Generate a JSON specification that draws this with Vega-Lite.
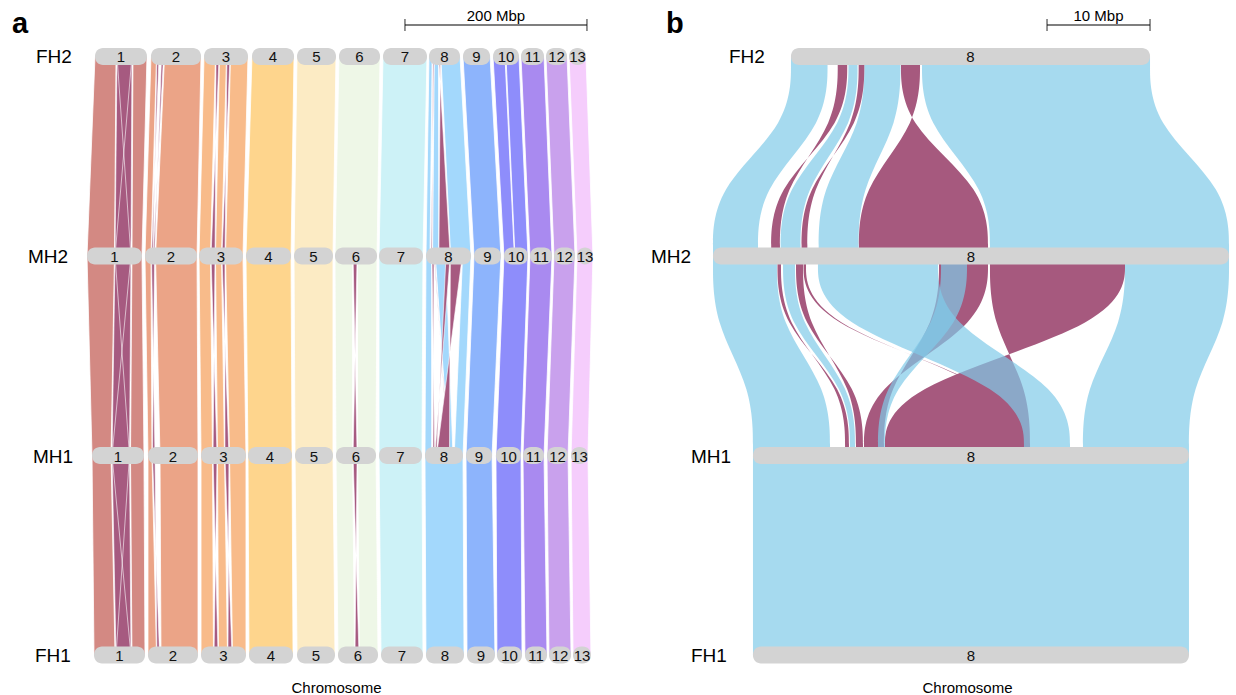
{
"$schema":"https://vega.github.io/schema/vega-lite/v6.json",
"padding":0,
"spacing":0,
"bounds":"flush",
"config":{"font":"Liberation Sans","view":{"stroke":null},"text":{"font":"Liberation Sans"}},
"datasets":{
"ra":[
{"id":"1a","c":"1","L":0,"x":11.0,"x2":34.1},{"id":"1a","c":"1","L":1,"x":2.2,"x2":32.4},
{"id":"1b","c":"1","L":0,"x":52.7,"x2":68.1},{"id":"1b","c":"1","L":1,"x":51.6,"x2":62.6},
{"id":"1c","c":"1","L":1,"x":2.2,"x2":32.4},{"id":"1c","c":"1","L":2,"x":7.7,"x2":28.6},
{"id":"1d","c":"1","L":1,"x":51.6,"x2":62.6},{"id":"1d","c":"1","L":2,"x":50.0,"x2":64.8},
{"id":"1e","c":"1","L":2,"x":7.7,"x2":28.6},{"id":"1e","c":"1","L":3,"x":9.9,"x2":33.0},
{"id":"1f","c":"1","L":2,"x":50.0,"x2":64.8},{"id":"1f","c":"1","L":3,"x":51.6,"x2":65.9},
{"id":"2a","c":"2","L":0,"x":72.5,"x2":78.6},{"id":"2a","c":"2","L":1,"x":65.9,"x2":72.5},
{"id":"2b","c":"2","L":0,"x":87.4,"x2":127.5},{"id":"2b","c":"2","L":1,"x":77.5,"x2":123.1},
{"id":"2c","c":"2","L":1,"x":65.9,"x2":72.5},{"id":"2c","c":"2","L":2,"x":69.2,"x2":73.6},
{"id":"2d","c":"2","L":1,"x":77.5,"x2":123.1},{"id":"2d","c":"2","L":2,"x":82.4,"x2":124.2},
{"id":"2e","c":"2","L":2,"x":69.2,"x2":73.6},{"id":"2e","c":"2","L":3,"x":69.2,"x2":78.6},
{"id":"2f","c":"2","L":2,"x":82.4,"x2":124.2},{"id":"2f","c":"2","L":3,"x":83.5,"x2":124.2},
{"id":"3a","c":"3","L":0,"x":130.8,"x2":143.4},{"id":"3a","c":"3","L":1,"x":125.3,"x2":137.9},
{"id":"3b","c":"3","L":0,"x":147.8,"x2":155.5},{"id":"3b","c":"3","L":1,"x":143.4,"x2":150.0},
{"id":"3c","c":"3","L":0,"x":159.9,"x2":179.1},{"id":"3c","c":"3","L":1,"x":154.4,"x2":173.6},
{"id":"3d","c":"3","L":1,"x":125.3,"x2":137.9},{"id":"3d","c":"3","L":2,"x":127.5,"x2":140.1},
{"id":"3e","c":"3","L":1,"x":143.4,"x2":150.0},{"id":"3e","c":"3","L":2,"x":145.6,"x2":153.3},
{"id":"3f","c":"3","L":1,"x":154.4,"x2":173.6},{"id":"3f","c":"3","L":2,"x":158.8,"x2":176.9},
{"id":"3g","c":"3","L":2,"x":127.5,"x2":140.1},{"id":"3g","c":"3","L":3,"x":127.5,"x2":141.2},
{"id":"3h","c":"3","L":2,"x":145.6,"x2":153.3},{"id":"3h","c":"3","L":3,"x":146.7,"x2":156.6},
{"id":"3i","c":"3","L":2,"x":158.8,"x2":176.9},{"id":"3i","c":"3","L":3,"x":162.1,"x2":176.9},
{"id":"4a","c":"4","L":0,"x":183.5,"x2":229.7},{"id":"4a","c":"4","L":1,"x":176.9,"x2":226.4},
{"id":"4b","c":"4","L":1,"x":176.9,"x2":226.4},{"id":"4b","c":"4","L":2,"x":179.1,"x2":227.5},
{"id":"4c","c":"4","L":2,"x":179.1,"x2":227.5},{"id":"4c","c":"4","L":3,"x":180.2,"x2":228.6},
{"id":"5a","c":"5","L":0,"x":233.0,"x2":275.8},{"id":"5a","c":"5","L":1,"x":229.7,"x2":272.5},
{"id":"5b","c":"5","L":1,"x":229.7,"x2":272.5},{"id":"5b","c":"5","L":2,"x":230.8,"x2":272.5},
{"id":"5c","c":"5","L":2,"x":230.8,"x2":272.5},{"id":"5c","c":"5","L":3,"x":233.0,"x2":274.7},
{"id":"6a","c":"6","L":0,"x":279.1,"x2":324.2},{"id":"6a","c":"6","L":1,"x":274.7,"x2":320.9},
{"id":"6b","c":"6","L":1,"x":274.7,"x2":294.0},{"id":"6b","c":"6","L":2,"x":275.8,"x2":294.0},
{"id":"6c","c":"6","L":1,"x":299.5,"x2":320.9},{"id":"6c","c":"6","L":2,"x":299.5,"x2":319.8},
{"id":"6d","c":"6","L":2,"x":275.8,"x2":294.0},{"id":"6d","c":"6","L":3,"x":278.0,"x2":296.2},
{"id":"6e","c":"6","L":2,"x":299.5,"x2":319.8},{"id":"6e","c":"6","L":3,"x":301.6,"x2":322.0},
{"id":"7a","c":"7","L":0,"x":327.5,"x2":375.8},{"id":"7a","c":"7","L":1,"x":323.1,"x2":371.4},
{"id":"7b","c":"7","L":1,"x":323.1,"x2":371.4},{"id":"7b","c":"7","L":2,"x":323.1,"x2":370.3},
{"id":"7c","c":"7","L":2,"x":323.1,"x2":370.3},{"id":"7c","c":"7","L":3,"x":325.3,"x2":371.4},
{"id":"8a","c":"8","L":0,"x":378.0,"x2":381.5},{"id":"8a","c":"8","L":1,"x":374.7,"x2":379.1},
{"id":"8b","c":"8","L":0,"x":383.8,"x2":388.5},{"id":"8b","c":"8","L":1,"x":381.9,"x2":388.8},
{"id":"8c","c":"8","L":0,"x":391.0,"x2":412.1},{"id":"8c","c":"8","L":1,"x":401.8,"x2":424.2},
{"id":"8d","c":"8","L":1,"x":374.7,"x2":380.9},{"id":"8d","c":"8","L":2,"x":373.6,"x2":381.0},
{"id":"8e","c":"8","L":1,"x":384.9,"x2":396.5},{"id":"8e","c":"8","L":2,"x":400.0,"x2":404.4},
{"id":"8f","c":"8","L":1,"x":414.9,"x2":424.2},{"id":"8f","c":"8","L":2,"x":405.7,"x2":415.4},
{"id":"8g","c":"8","L":2,"x":373.6,"x2":415.4},{"id":"8g","c":"8","L":3,"x":374.7,"x2":416.5},
{"id":"9a","c":"9","L":0,"x":415.4,"x2":445.1},{"id":"9a","c":"9","L":1,"x":427.5,"x2":457.1},
{"id":"9b","c":"9","L":1,"x":427.5,"x2":457.1},{"id":"9b","c":"9","L":2,"x":418.7,"x2":447.3},
{"id":"9c","c":"9","L":2,"x":418.7,"x2":447.3},{"id":"9c","c":"9","L":3,"x":419.8,"x2":450.5},
{"id":"10a","c":"10","L":0,"x":448.4,"x2":461.5},{"id":"10a","c":"10","L":1,"x":460.4,"x2":471.9},
{"id":"10b","c":"10","L":0,"x":462.6,"x2":476.9},{"id":"10b","c":"10","L":1,"x":472.5,"x2":486.8},
{"id":"10c","c":"10","L":1,"x":460.4,"x2":486.8},{"id":"10c","c":"10","L":2,"x":451.6,"x2":479.1},
{"id":"10d","c":"10","L":2,"x":451.6,"x2":479.1},{"id":"10d","c":"10","L":3,"x":452.7,"x2":480.2},
{"id":"11a","c":"11","L":0,"x":479.1,"x2":504.4},{"id":"11a","c":"11","L":1,"x":489.0,"x2":513.2},
{"id":"11b","c":"11","L":1,"x":489.0,"x2":513.2},{"id":"11b","c":"11","L":2,"x":481.3,"x2":504.4},
{"id":"11c","c":"11","L":2,"x":481.3,"x2":504.4},{"id":"11c","c":"11","L":3,"x":483.5,"x2":507.7},
{"id":"12a","c":"12","L":0,"x":506.6,"x2":529.7},{"id":"12a","c":"12","L":1,"x":515.4,"x2":538.5},
{"id":"12b","c":"12","L":1,"x":515.4,"x2":538.5},{"id":"12b","c":"12","L":2,"x":507.7,"x2":530.8},
{"id":"12c","c":"12","L":2,"x":507.7,"x2":530.8},{"id":"12c","c":"12","L":3,"x":509.9,"x2":534.1},
{"id":"13a","c":"13","L":0,"x":531.9,"x2":550.5},{"id":"13a","c":"13","L":1,"x":540.7,"x2":558.2},
{"id":"13b","c":"13","L":1,"x":540.7,"x2":558.2},{"id":"13b","c":"13","L":2,"x":534.1,"x2":552.7},
{"id":"13c","c":"13","L":2,"x":534.1,"x2":552.7},{"id":"13c","c":"13","L":3,"x":536.3,"x2":556.0}
],
"ia":[
{"id":"1p1","L":0,"x":35.2,"x2":51.6},{"id":"1p1","L":1,"x":33.0,"x2":50.5},
{"id":"1x1","L":0,"x":35.2,"x2":51.6},{"id":"1x1","L":1,"x":50.5,"x2":33.0},
{"id":"1p2","L":1,"x":33.0,"x2":50.5},{"id":"1p2","L":2,"x":29.7,"x2":48.9},
{"id":"1x2","L":1,"x":33.0,"x2":50.5},{"id":"1x2","L":2,"x":48.9,"x2":29.7},
{"id":"1p3","L":2,"x":29.7,"x2":48.9},{"id":"1p3","L":3,"x":34.1,"x2":50.5},
{"id":"1x3","L":2,"x":29.7,"x2":48.9},{"id":"1x3","L":3,"x":50.5,"x2":34.1},
{"id":"2i1","L":0,"x":79.1,"x2":81.3},{"id":"2i1","L":1,"x":74.7,"x2":73.1},
{"id":"2i2","L":0,"x":84.1,"x2":86.3},{"id":"2i2","L":1,"x":76.4,"x2":74.9},
{"id":"2i3","L":1,"x":73.1,"x2":76.4},{"id":"2i3","L":2,"x":76.9,"x2":74.2},
{"id":"2i4","L":2,"x":74.2,"x2":76.9},{"id":"2i4","L":3,"x":81.9,"x2":79.1},
{"id":"3i1","L":0,"x":144.0,"x2":147.3},{"id":"3i1","L":1,"x":142.9,"x2":138.5},
{"id":"3i2","L":0,"x":156.0,"x2":159.3},{"id":"3i2","L":1,"x":153.8,"x2":150.5},
{"id":"3i3","L":1,"x":138.5,"x2":142.9},{"id":"3i3","L":2,"x":145.1,"x2":140.7},
{"id":"3i4","L":1,"x":150.5,"x2":153.8},{"id":"3i4","L":2,"x":158.2,"x2":153.8},
{"id":"3i5","L":2,"x":140.7,"x2":145.1},{"id":"3i5","L":3,"x":146.2,"x2":141.8},
{"id":"3i6","L":2,"x":153.8,"x2":158.2},{"id":"3i6","L":3,"x":161.5,"x2":157.1},
{"id":"6i1","L":1,"x":294.6,"x2":299.0},{"id":"6i1","L":2,"x":299.0,"x2":294.6},
{"id":"6i2","L":2,"x":294.6,"x2":299.0},{"id":"6i2","L":3,"x":301.1,"x2":296.7},
{"id":"8i1","L":0,"x":382.4,"x2":383.5},{"id":"8i1","L":1,"x":381.3,"x2":380.2},
{"id":"8i2","L":0,"x":388.7,"x2":390.5},{"id":"8i2","L":1,"x":401.3,"x2":388.9},
{"id":"8i3","L":1,"x":381.3,"x2":383.5},{"id":"8i3","L":2,"x":384.3,"x2":382.4},
{"id":"8i4","L":1,"x":383.6,"x2":384.2},{"id":"8i4","L":2,"x":400.0,"x2":399.2},
{"id":"8i5","L":1,"x":396.7,"x2":401.3},{"id":"8i5","L":2,"x":386.3,"x2":384.4},
{"id":"8i6","L":1,"x":401.5,"x2":414.6},{"id":"8i6","L":2,"x":400.5,"x2":386.4}
],
"ba":[
{"g":"FH2","L":0,"chr":"1","x":11.0,"x2":68.1},{"g":"FH2","L":0,"chr":"2","x":72.5,"x2":127.5},{"g":"FH2","L":0,"chr":"3","x":130.8,"x2":179.1},{"g":"FH2","L":0,"chr":"4","x":183.5,"x2":229.7},{"g":"FH2","L":0,"chr":"5","x":233.0,"x2":275.8},{"g":"FH2","L":0,"chr":"6","x":279.1,"x2":324.2},{"g":"FH2","L":0,"chr":"7","x":327.5,"x2":375.8},{"g":"FH2","L":0,"chr":"8","x":378.0,"x2":412.1},{"g":"FH2","L":0,"chr":"9","x":415.4,"x2":445.1},{"g":"FH2","L":0,"chr":"10","x":448.4,"x2":476.9},{"g":"FH2","L":0,"chr":"11","x":479.1,"x2":504.4},{"g":"FH2","L":0,"chr":"12","x":506.6,"x2":529.7},{"g":"FH2","L":0,"chr":"13","x":531.9,"x2":550.5},
{"g":"MH2","L":1,"chr":"1","x":2.2,"x2":62.6},{"g":"MH2","L":1,"chr":"2","x":65.9,"x2":123.1},{"g":"MH2","L":1,"chr":"3","x":125.3,"x2":173.6},{"g":"MH2","L":1,"chr":"4","x":176.9,"x2":226.4},{"g":"MH2","L":1,"chr":"5","x":229.7,"x2":272.5},{"g":"MH2","L":1,"chr":"6","x":274.7,"x2":320.9},{"g":"MH2","L":1,"chr":"7","x":323.1,"x2":371.4},{"g":"MH2","L":1,"chr":"8","x":374.7,"x2":424.2},{"g":"MH2","L":1,"chr":"9","x":427.5,"x2":457.1},{"g":"MH2","L":1,"chr":"10","x":460.4,"x2":486.8},{"g":"MH2","L":1,"chr":"11","x":489.0,"x2":513.2},{"g":"MH2","L":1,"chr":"12","x":515.4,"x2":538.5},{"g":"MH2","L":1,"chr":"13","x":540.7,"x2":558.2},
{"g":"MH1","L":2,"chr":"1","x":7.7,"x2":64.8},{"g":"MH1","L":2,"chr":"2","x":69.2,"x2":124.2},{"g":"MH1","L":2,"chr":"3","x":127.5,"x2":176.9},{"g":"MH1","L":2,"chr":"4","x":179.1,"x2":227.5},{"g":"MH1","L":2,"chr":"5","x":230.8,"x2":272.5},{"g":"MH1","L":2,"chr":"6","x":275.8,"x2":319.8},{"g":"MH1","L":2,"chr":"7","x":323.1,"x2":370.3},{"g":"MH1","L":2,"chr":"8","x":373.6,"x2":415.4},{"g":"MH1","L":2,"chr":"9","x":418.7,"x2":447.3},{"g":"MH1","L":2,"chr":"10","x":451.6,"x2":479.1},{"g":"MH1","L":2,"chr":"11","x":481.3,"x2":504.4},{"g":"MH1","L":2,"chr":"12","x":507.7,"x2":530.8},{"g":"MH1","L":2,"chr":"13","x":534.1,"x2":552.7},
{"g":"FH1","L":3,"chr":"1","x":9.9,"x2":65.9},{"g":"FH1","L":3,"chr":"2","x":69.2,"x2":124.2},{"g":"FH1","L":3,"chr":"3","x":127.5,"x2":176.9},{"g":"FH1","L":3,"chr":"4","x":180.2,"x2":228.6},{"g":"FH1","L":3,"chr":"5","x":233.0,"x2":274.7},{"g":"FH1","L":3,"chr":"6","x":278.0,"x2":322.0},{"g":"FH1","L":3,"chr":"7","x":325.3,"x2":371.4},{"g":"FH1","L":3,"chr":"8","x":374.7,"x2":416.5},{"g":"FH1","L":3,"chr":"9","x":419.8,"x2":450.5},{"g":"FH1","L":3,"chr":"10","x":452.7,"x2":480.2},{"g":"FH1","L":3,"chr":"11","x":483.5,"x2":507.7},{"g":"FH1","L":3,"chr":"12","x":509.9,"x2":534.1},{"g":"FH1","L":3,"chr":"13","x":536.3,"x2":556.0}
],
"rb1":[
{"id":"b1","L":0,"x":7.57,"x2":11.12},{"id":"b1","L":0.333,"x":7.57,"x2":11.12},{"id":"b1","L":0.667,"x":0,"x2":4.37},{"id":"b1","L":1,"x":0,"x2":4.37},
{"id":"b3","L":0,"x":13.15,"x2":14.03},{"id":"b3","L":0.333,"x":13.15,"x2":14.03},{"id":"b3","L":0.667,"x":6.57,"x2":8.50},{"id":"b3","L":1,"x":6.57,"x2":8.50},
{"id":"b5","L":0,"x":14.69,"x2":18.20},{"id":"b5","L":0.333,"x":14.69,"x2":18.20},{"id":"b5","L":0.667,"x":10.26,"x2":14.14},{"id":"b5","L":1,"x":10.26,"x2":14.14},
{"id":"b7","L":0,"x":20.29,"x2":42.43},{"id":"b7","L":0.333,"x":20.29,"x2":42.43},{"id":"b7","L":0.667,"x":26.89,"x2":50.10},{"id":"b7","L":1,"x":26.89,"x2":50.10},
{"id":"c1","L":1,"x":0,"x2":6.21},{"id":"c1","L":1.333,"x":0,"x2":6.21},{"id":"c1","L":1.667,"x":3.88,"x2":11.36},{"id":"c1","L":2,"x":3.88,"x2":11.36},
{"id":"c3","L":1,"x":6.80,"x2":7.96},{"id":"c3","L":1.333,"x":6.80,"x2":7.96},{"id":"c3","L":1.667,"x":13.30,"x2":13.79},{"id":"c3","L":2,"x":13.30,"x2":13.79},
{"id":"c10","L":1,"x":40.0,"x2":50.10},{"id":"c10","L":1.333,"x":40.0,"x2":50.10},{"id":"c10","L":1.667,"x":35.92,"x2":46.21},{"id":"c10","L":2,"x":35.92,"x2":46.21},
{"id":"d1","L":2,"x":3.88,"x2":46.21},{"id":"d1","L":3,"x":3.88,"x2":46.21}
],
"rb2":[
{"id":"b2","L":0,"x":12.11,"x2":13.03},{"id":"b2","L":0.333,"x":12.11,"x2":13.03},{"id":"b2","L":0.667,"x":6.50,"x2":5.65},{"id":"b2","L":1,"x":6.50,"x2":5.65},
{"id":"b4","L":0,"x":14.14,"x2":14.69},{"id":"b4","L":0.333,"x":14.14,"x2":14.69},{"id":"b4","L":0.667,"x":9.16,"x2":8.60},{"id":"b4","L":1,"x":9.16,"x2":8.60},
{"id":"b6","L":0,"x":18.25,"x2":20.10},{"id":"b6","L":0.333,"x":18.25,"x2":20.10},{"id":"b6","L":0.667,"x":26.70,"x2":14.17},{"id":"b6","L":1,"x":26.70,"x2":14.17},
{"id":"c2","L":1,"x":6.26,"x2":6.60},{"id":"c2","L":1.333,"x":6.26,"x2":6.60},{"id":"c2","L":1.667,"x":13.20,"x2":12.82},{"id":"c2","L":2,"x":13.20,"x2":12.82},
{"id":"c4","L":1,"x":8.06,"x2":8.74},{"id":"c4","L":1.333,"x":8.06,"x2":8.74},{"id":"c4","L":1.667,"x":14.56,"x2":13.88},{"id":"c4","L":2,"x":14.56,"x2":13.88},
{"id":"c5","L":1,"x":8.79,"x2":9.03},{"id":"c5","L":1.333,"x":8.79,"x2":9.03},{"id":"c5","L":1.667,"x":30.10,"x2":29.81},{"id":"c5","L":2,"x":30.10,"x2":29.81},
{"id":"c7","L":1,"x":21.94,"x2":26.70},{"id":"c7","L":1.333,"x":21.94,"x2":26.70},{"id":"c7","L":1.667,"x":16.60,"x2":14.66},{"id":"c7","L":2,"x":16.60,"x2":14.66},
{"id":"c9","L":1,"x":26.89,"x2":40.0},{"id":"c9","L":1.333,"x":26.89,"x2":40.0},{"id":"c9","L":1.667,"x":30.78,"x2":16.70},{"id":"c9","L":2,"x":30.78,"x2":16.70}
],
"rb3":[
{"id":"c6","L":1,"x":10.19,"x2":21.84},{"id":"c6","L":1.333,"x":10.19,"x2":21.84},{"id":"c6","L":1.667,"x":30.19,"x2":34.66},{"id":"c6","L":2,"x":30.19,"x2":34.66},
{"id":"c8","L":1,"x":22.14,"x2":24.66},{"id":"c8","L":1.333,"x":22.14,"x2":24.66},{"id":"c8","L":1.667,"x":16.02,"x2":16.70},{"id":"c8","L":2,"x":16.02,"x2":16.70}
],
"bb":[
{"g":"FH2","L":0,"chr":"8","x":7.57,"x2":42.43},
{"g":"MH2","L":1,"chr":"8","x":0,"x2":50.10},
{"g":"MH1","L":2,"chr":"8","x":3.88,"x2":46.21},
{"g":"FH1","L":3,"chr":"8","x":3.88,"x2":46.21}
]
},
"hconcat":[
{
"width":672,"height":672,
"encoding":{"y":{"field":"L","type":"quantitative","scale":{"domain":[-0.2832,3.0852],"reverse":true,"nice":false,"zero":false,"padding":0},"axis":null}},
"layer":[
{"data":{"name":"ra"},"mark":{"type":"area","orient":"horizontal","stroke":"white","strokeWidth":0.8},
"encoding":{"x":{"field":"x","type":"quantitative","scale":{"domain":[-93.41,645.05],"nice":false,"zero":false,"padding":0},"axis":{"title":"Chromosome","labels":false,"ticks":false,"domain":false,"grid":false,"titleFontSize":15,"titleFontWeight":"normal","titlePadding":8,"titleColor":"#000","titleFont":"Liberation Sans"}},
"x2":{"field":"x2"},"detail":{"field":"id"},
"color":{"field":"c","type":"nominal","legend":null,"scale":{"domain":["1","2","3","4","5","6","7","8","9","10","11","12","13"],"range":["#d38983","#eba487","#f8bb8a","#fed58d","#fcebc4","#eef7e7","#cdf2f7","#a3d8fc","#8db4fc","#8e8dfb","#a98af0","#c9a1ed","#f5cdfc"]}}}},
{"data":{"name":"ia"},"mark":{"type":"area","orient":"horizontal","fill":"#a65a80","stroke":"white","strokeWidth":0.6},
"encoding":{"x":{"field":"x","type":"quantitative","scale":{"domain":[-93.41,645.05],"nice":false,"zero":false,"padding":0},"axis":{"title":"Chromosome","labels":false,"ticks":false,"domain":false,"grid":false,"titleFontSize":15,"titleFontWeight":"normal","titlePadding":8,"titleColor":"#000","titleFont":"Liberation Sans"}},"x2":{"field":"x2"},"detail":{"field":"id"}}},
{"data":{"name":"ba"},"mark":{"type":"bar","orient":"horizontal","size":17,"cornerRadius":8,"color":"#d3d3d3"},
"encoding":{"x":{"field":"x","type":"quantitative","scale":{"domain":[-93.41,645.05],"nice":false,"zero":false,"padding":0},"axis":{"title":"Chromosome","labels":false,"ticks":false,"domain":false,"grid":false,"titleFontSize":15,"titleFontWeight":"normal","titlePadding":8,"titleColor":"#000","titleFont":"Liberation Sans"}},"x2":{"field":"x2"}}},
{"data":{"name":"ba"},"transform":[{"fold":["x","x2"],"as":["k","p"]}],"mark":{"type":"text","fontSize":15,"color":"#111","baseline":"middle","dy":1},
"encoding":{"x":{"field":"p","aggregate":"mean","type":"quantitative","scale":{"domain":[-93.41,645.05],"nice":false,"zero":false,"padding":0},"axis":{"title":"Chromosome","labels":false,"ticks":false,"domain":false,"grid":false,"titleFontSize":15,"titleFontWeight":"normal","titlePadding":8,"titleColor":"#000","titleFont":"Liberation Sans"}},"text":{"field":"chr"},"detail":{"field":"g"}}},
{"data":{"name":"ba"},"mark":{"type":"text","fontSize":19,"align":"left","baseline":"middle","dx":-59,"dy":1,"color":"#000"},
"encoding":{"x":{"field":"x","aggregate":"min","type":"quantitative","scale":{"domain":[-93.41,645.05],"nice":false,"zero":false,"padding":0},"axis":{"title":"Chromosome","labels":false,"ticks":false,"domain":false,"grid":false,"titleFontSize":15,"titleFontWeight":"normal","titlePadding":8,"titleColor":"#000","titleFont":"Liberation Sans"}},"text":{"field":"g"}}},
{"data":{"values":[{"x":351.6,"x2":551.6,"L":-0.158,"lab":"200 Mbp"}]},"layer":[
{"mark":{"type":"rule","color":"#000","strokeWidth":1.2},"encoding":{"x":{"field":"x","type":"quantitative","scale":{"domain":[-93.41,645.05],"nice":false,"zero":false,"padding":0},"axis":{"title":"Chromosome","labels":false,"ticks":false,"domain":false,"grid":false,"titleFontSize":15,"titleFontWeight":"normal","titlePadding":8,"titleColor":"#000","titleFont":"Liberation Sans"}},"x2":{"field":"x2"}}},
{"mark":{"type":"tick","orient":"vertical","size":12,"thickness":1.2,"color":"#000"},"encoding":{"x":{"field":"x","type":"quantitative","scale":{"domain":[-93.41,645.05],"nice":false,"zero":false,"padding":0},"axis":{"title":"Chromosome","labels":false,"ticks":false,"domain":false,"grid":false,"titleFontSize":15,"titleFontWeight":"normal","titlePadding":8,"titleColor":"#000","titleFont":"Liberation Sans"}}}},
{"mark":{"type":"tick","orient":"vertical","size":12,"thickness":1.2,"color":"#000"},"encoding":{"x":{"field":"x2","type":"quantitative","scale":{"domain":[-93.41,645.05],"nice":false,"zero":false,"padding":0},"axis":{"title":"Chromosome","labels":false,"ticks":false,"domain":false,"grid":false,"titleFontSize":15,"titleFontWeight":"normal","titlePadding":8,"titleColor":"#000","titleFont":"Liberation Sans"}}}},
{"transform":[{"fold":["x","x2"],"as":["k","p"]}],"mark":{"type":"text","fontSize":15,"baseline":"alphabetic","dy":-4,"color":"#000"},"encoding":{"x":{"field":"p","aggregate":"mean","type":"quantitative","scale":{"domain":[-93.41,645.05],"nice":false,"zero":false,"padding":0},"axis":{"title":"Chromosome","labels":false,"ticks":false,"domain":false,"grid":false,"titleFontSize":15,"titleFontWeight":"normal","titlePadding":8,"titleColor":"#000","titleFont":"Liberation Sans"}},"text":{"field":"lab"}}}
]},
{"data":{"values":[{"x":-80.2,"L":-0.118,"lab":"a"}]},"mark":{"type":"text","fontSize":29,"fontWeight":"bold","align":"left","baseline":"alphabetic","color":"#000"},
"encoding":{"x":{"field":"x","type":"quantitative","scale":{"domain":[-93.41,645.05],"nice":false,"zero":false,"padding":0},"axis":{"title":"Chromosome","labels":false,"ticks":false,"domain":false,"grid":false,"titleFontSize":15,"titleFontWeight":"normal","titlePadding":8,"titleColor":"#000","titleFont":"Liberation Sans"}},"text":{"field":"lab"}}}
]
},
{
"width":564,"height":672,
"encoding":{"y":{"field":"L","type":"quantitative","scale":{"domain":[-0.2832,3.0852],"reverse":true,"nice":false,"zero":false,"padding":0},"axis":null}},
"layer":[
{"data":{"name":"rb1"},"mark":{"type":"area","orient":"horizontal","interpolate":"basis","fill":"#80cae8","fillOpacity":0.7},
"encoding":{"x":{"field":"x","type":"quantitative","scale":{"domain":[-3.981,50.777],"nice":false,"zero":false,"padding":0},"axis":{"title":"Chromosome","labels":false,"ticks":false,"domain":false,"grid":false,"titleFontSize":15,"titleFontWeight":"normal","titlePadding":8,"titleColor":"#000","titleFont":"Liberation Sans","titleX":295}},"x2":{"field":"x2"},"detail":{"field":"id"}}},
{"data":{"name":"rb2"},"mark":{"type":"area","orient":"horizontal","interpolate":"basis","fill":"#a6597e"},
"encoding":{"x":{"field":"x","type":"quantitative","scale":{"domain":[-3.981,50.777],"nice":false,"zero":false,"padding":0},"axis":{"title":"Chromosome","labels":false,"ticks":false,"domain":false,"grid":false,"titleFontSize":15,"titleFontWeight":"normal","titlePadding":8,"titleColor":"#000","titleFont":"Liberation Sans","titleX":295}},"x2":{"field":"x2"},"detail":{"field":"id"}}},
{"data":{"name":"rb3"},"mark":{"type":"area","orient":"horizontal","interpolate":"basis","fill":"#80cae8","fillOpacity":0.7},
"encoding":{"x":{"field":"x","type":"quantitative","scale":{"domain":[-3.981,50.777],"nice":false,"zero":false,"padding":0},"axis":{"title":"Chromosome","labels":false,"ticks":false,"domain":false,"grid":false,"titleFontSize":15,"titleFontWeight":"normal","titlePadding":8,"titleColor":"#000","titleFont":"Liberation Sans","titleX":295}},"x2":{"field":"x2"},"detail":{"field":"id"}}},
{"data":{"name":"bb"},"mark":{"type":"bar","orient":"horizontal","size":17,"cornerRadius":8,"color":"#d3d3d3"},
"encoding":{"x":{"field":"x","type":"quantitative","scale":{"domain":[-3.981,50.777],"nice":false,"zero":false,"padding":0},"axis":{"title":"Chromosome","labels":false,"ticks":false,"domain":false,"grid":false,"titleFontSize":15,"titleFontWeight":"normal","titlePadding":8,"titleColor":"#000","titleFont":"Liberation Sans","titleX":295}},"x2":{"field":"x2"}}},
{"data":{"name":"bb"},"transform":[{"fold":["x","x2"],"as":["k","p"]}],"mark":{"type":"text","fontSize":15,"color":"#111","baseline":"middle","dy":1},
"encoding":{"x":{"field":"p","aggregate":"mean","type":"quantitative","scale":{"domain":[-3.981,50.777],"nice":false,"zero":false,"padding":0},"axis":{"title":"Chromosome","labels":false,"ticks":false,"domain":false,"grid":false,"titleFontSize":15,"titleFontWeight":"normal","titlePadding":8,"titleColor":"#000","titleFont":"Liberation Sans","titleX":295}},"text":{"field":"chr"},"detail":{"field":"g"}}},
{"data":{"name":"bb"},"mark":{"type":"text","fontSize":19,"align":"left","baseline":"middle","dx":-62,"dy":1,"color":"#000"},
"encoding":{"x":{"field":"x","aggregate":"min","type":"quantitative","scale":{"domain":[-3.981,50.777],"nice":false,"zero":false,"padding":0},"axis":{"title":"Chromosome","labels":false,"ticks":false,"domain":false,"grid":false,"titleFontSize":15,"titleFontWeight":"normal","titlePadding":8,"titleColor":"#000","titleFont":"Liberation Sans","titleX":295}},"text":{"field":"g"}}},
{"data":{"values":[{"x":32.43,"x2":42.43,"L":-0.158,"lab":"10 Mbp"}]},"layer":[
{"mark":{"type":"rule","color":"#000","strokeWidth":1.2},"encoding":{"x":{"field":"x","type":"quantitative","scale":{"domain":[-3.981,50.777],"nice":false,"zero":false,"padding":0},"axis":{"title":"Chromosome","labels":false,"ticks":false,"domain":false,"grid":false,"titleFontSize":15,"titleFontWeight":"normal","titlePadding":8,"titleColor":"#000","titleFont":"Liberation Sans","titleX":295}},"x2":{"field":"x2"}}},
{"mark":{"type":"tick","orient":"vertical","size":12,"thickness":1.2,"color":"#000"},"encoding":{"x":{"field":"x","type":"quantitative","scale":{"domain":[-3.981,50.777],"nice":false,"zero":false,"padding":0},"axis":{"title":"Chromosome","labels":false,"ticks":false,"domain":false,"grid":false,"titleFontSize":15,"titleFontWeight":"normal","titlePadding":8,"titleColor":"#000","titleFont":"Liberation Sans","titleX":295}}}},
{"mark":{"type":"tick","orient":"vertical","size":12,"thickness":1.2,"color":"#000"},"encoding":{"x":{"field":"x2","type":"quantitative","scale":{"domain":[-3.981,50.777],"nice":false,"zero":false,"padding":0},"axis":{"title":"Chromosome","labels":false,"ticks":false,"domain":false,"grid":false,"titleFontSize":15,"titleFontWeight":"normal","titlePadding":8,"titleColor":"#000","titleFont":"Liberation Sans","titleX":295}}}},
{"transform":[{"fold":["x","x2"],"as":["k","p"]}],"mark":{"type":"text","fontSize":15,"baseline":"alphabetic","dy":-4,"color":"#000"},"encoding":{"x":{"field":"p","aggregate":"mean","type":"quantitative","scale":{"domain":[-3.981,50.777],"nice":false,"zero":false,"padding":0},"axis":{"title":"Chromosome","labels":false,"ticks":false,"domain":false,"grid":false,"titleFontSize":15,"titleFontWeight":"normal","titlePadding":8,"titleColor":"#000","titleFont":"Liberation Sans","titleX":295}},"text":{"field":"lab"}}}
]},
{"data":{"values":[{"x":-4.56,"L":-0.118,"lab":"b"}]},"mark":{"type":"text","fontSize":29,"fontWeight":"bold","align":"left","baseline":"alphabetic","color":"#000"},
"encoding":{"x":{"field":"x","type":"quantitative","scale":{"domain":[-3.981,50.777],"nice":false,"zero":false,"padding":0},"axis":{"title":"Chromosome","labels":false,"ticks":false,"domain":false,"grid":false,"titleFontSize":15,"titleFontWeight":"normal","titlePadding":8,"titleColor":"#000","titleFont":"Liberation Sans","titleX":295}},"text":{"field":"lab"}}}
]
}
]
}
